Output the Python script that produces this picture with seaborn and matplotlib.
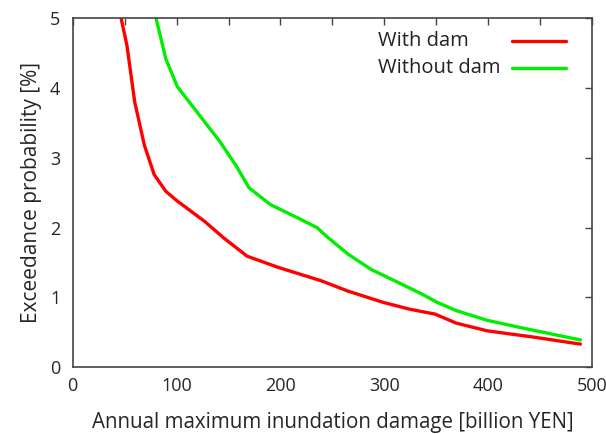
import pandas as pd
import numpy as np
import matplotlib.pyplot as plt
import seaborn as sns

sns.set_style('white')
plt.rcParams['font.family'] = ['Open Sans', 'DejaVu Sans']

with_x = [46.6, 52.2, 59.7, 69.0, 78.4, 89.6, 100.7, 126.9, 145.5, 167.9, 197.8,
          238.8, 265.0, 298.5, 324.6, 348.9, 369.4, 399.3, 444.0, 488.8]
with_y = [5.0, 4.61, 3.80, 3.18, 2.76, 2.52, 2.38, 2.09, 1.85, 1.59, 1.43,
          1.24, 1.09, 0.93, 0.83, 0.76, 0.63, 0.52, 0.43, 0.33]
without_x = [80.2, 89.6, 100.7, 123.1, 141.8, 156.7, 169.8, 190.3, 216.4, 235.1,
             246.3, 265.0, 287.3, 309.7, 335.8, 350.7, 369.4, 399.3, 436.6, 488.8]
without_y = [5.0, 4.42, 4.02, 3.59, 3.23, 2.90, 2.57, 2.33, 2.14, 2.00,
             1.85, 1.62, 1.40, 1.24, 1.05, 0.93, 0.81, 0.67, 0.55, 0.39]
labels = ['With dam', 'Without dam']
colors = ['#ff0000', '#00ee00']

df = pd.concat([
    pd.DataFrame({'damage': with_x, 'prob': with_y, 'case': labels[0]}),
    pd.DataFrame({'damage': without_x, 'prob': without_y, 'case': labels[1]}),
])

fig = plt.figure(figsize=(6.06, 4.34), dpi=100)
ax = fig.add_axes([0.120, 0.154, 0.857, 0.804])
sns.lineplot(data=df, x='damage', y='prob', hue='case', sort=False,
             palette=dict(zip(labels, colors)), linewidth=2.4, ax=ax)

ax.set_xlim(0, 500)
ax.set_ylim(0, 5)
ax.set_xticks(range(0, 501, 100))
ax.set_xticks(range(50, 500, 100), minor=True)
ax.set_yticks(range(0, 6))
ax.tick_params(which='both', direction='in', top=True, right=True,
               length=5, width=1, color='#444444', labelsize=13, pad=7)
ax.tick_params(axis='y', pad=9)
for s in ax.spines.values():
    s.set_color('#444444')
    s.set_linewidth(1.2)

ax.set_xlabel('Annual maximum inundation damage [billion YEN]', fontsize=14.8, labelpad=12)
ax.set_ylabel('Exceedance probability [%]', fontsize=15, labelpad=6)

# gnuplot style key: labels left-aligned, line samples on the right
handles, _ = ax.get_legend_handles_labels()
leg = ax.legend(handles, ['', ''], loc='upper right', bbox_to_anchor=(0.966, 0.985),
                frameon=False, fontsize=15, handlelength=2.6, handletextpad=0,
                borderaxespad=0, labelspacing=0.32)
for i, lab in enumerate(labels):
    ax.text(0.588, 0.935 - i * 0.077, lab, transform=ax.transAxes,
            fontsize=14.5, ha='left', va='center', color='#222222')

fig.savefig('out.png', dpi=100)
